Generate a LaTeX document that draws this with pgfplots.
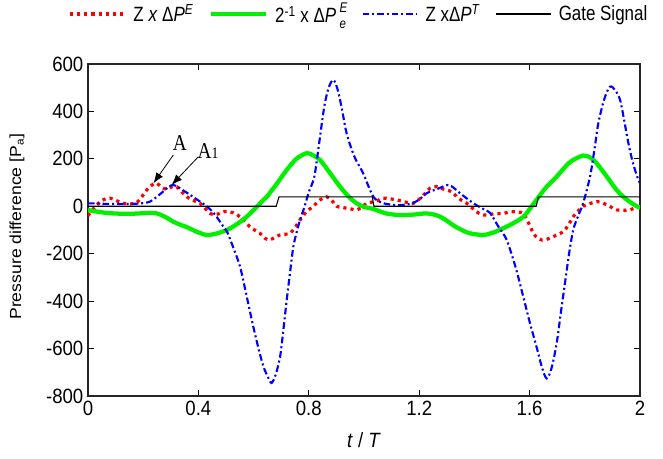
\documentclass[border=0pt]{standalone}
\usepackage{fontspec}
\setmainfont[FakeStretch=0.82]{Liberation Sans}
\newfontfamily\tickfont[FakeStretch=0.9]{Liberation Sans}
\newfontfamily\ylfont[FakeStretch=1.1]{Liberation Sans}
\newfontfamily\annfont[FakeStretch=0.85]{Liberation Serif}
\usepackage{pgfplots}
\pgfplotsset{compat=1.18}
\usetikzlibrary{arrows.meta}
\definecolor{cRed}{HTML}{FF0000}
\definecolor{cGreen}{HTML}{00F000}
\definecolor{cBlue}{HTML}{0000FF}
\newcommand{\lbl}{\fontsize{15.5}{18}\selectfont}
\newcommand{\tlbl}{\tickfont\fontsize{15.5}{18}\selectfont}
\newcommand{\sm}{\fontsize{10.5}{11}\selectfont}

\begin{document}
\begin{tikzpicture}
\begin{axis}[
  at={(0,0)}, anchor=south west,
  width=414pt, height=249pt, scale only axis,
  xmin=0, xmax=2, ymin=-800, ymax=600,
  xtick={0,0.4,0.8,1.2,1.6,2},
  xticklabels={0,0.4,0.8,1.2,1.6,2},
  ytick={-800,-600,-400,-200,0,200,400,600},
  tick align=inside, tick pos=both,
  major tick length=4.5pt,
  tick style={black, line width=0.6pt},
  axis line style={black!85, line width=0.9pt},
  /pgf/number format/assume math mode=true,
  ticklabel style={font=\tlbl},
  xlabel={\textit{t} / \textit{T}},
  xlabel style={font=\tlbl, at={(axis description cs:0.5,-0.1325)}, anchor=center},
  ylabel={Pressure difference [P\textsubscript{a}]},
  ylabel style={font=\ylfont\fontsize{12}{14}\selectfont, at={(axis description cs:-0.1286,0.51)}, anchor=center},
  legend columns=4,
  legend cell align=left,
  legend style={at={(-0.0362,1.1506)}, anchor=west, draw=none, fill=none,
    inner sep=0pt, font=\lbl,
    /tikz/every even column/.append style={column sep=9.5pt}},
  legend image code/.code={\draw[#1] (0pt,0pt) -- (41pt,0pt); \path (44.5pt,0pt);},
]
% Z x dP^E
\addplot[cRed, line width=2.4pt, dash pattern=on 2.4pt off 3pt, smooth] coordinates {
(0,-40) (0.02,-10) (0.05,25) (0.08,34) (0.1,25) (0.128,13) (0.155,10) (0.176,15)
(0.195,40) (0.213,69) (0.232,90) (0.249,97) (0.267,80) (0.285,72) (0.303,82) (0.321,83)
(0.34,60) (0.358,40) (0.38,25) (0.406,13) (0.425,-10) (0.442,-30) (0.46,-35) (0.478,-30)
(0.496,-22) (0.514,-23) (0.54,-35) (0.563,-58) (0.59,-90) (0.623,-114) (0.641,-135)
(0.659,-142) (0.678,-130) (0.696,-121) (0.714,-118) (0.732,-114) (0.75,-90) (0.768,-58)
(0.79,-25) (0.816,0) (0.841,27) (0.865,40) (0.883,25) (0.901,0) (0.92,-5) (0.937,-8)
(0.955,-12) (0.974,-15) (0.99,-5) (1.01,13) (1.04,20) (1.07,34) (1.09,32) (1.118,27)
(1.15,18) (1.179,13) (1.21,40) (1.239,76) (1.263,83) (1.28,75) (1.299,69) (1.32,60)
(1.336,40) (1.354,25) (1.372,13) (1.39,-5) (1.408,-23) (1.426,-35) (1.444,-37) (1.47,-32)
(1.505,-30) (1.523,-25) (1.541,-23) (1.56,-25) (1.578,-30) (1.596,-70) (1.614,-114)
(1.629,-135) (1.643,-142) (1.66,-140) (1.673,-135) (1.7,-120) (1.722,-107) (1.74,-80)
(1.758,-44) (1.776,-20) (1.794,0) (1.82,12) (1.843,20) (1.855,18) (1.867,13) (1.89,0)
(1.915,-15) (1.94,-17) (1.964,-15) (1.98,-8) (2,0)};
% 2^-1 x dP_e^E
\addplot[cGreen, line width=3.2pt, smooth] coordinates {
(0,-16) (0.03,-22) (0.06,-27) (0.091,-30) (0.14,-32) (0.188,-30) (0.22,-28) (0.249,-30)
(0.28,-45) (0.309,-65) (0.335,-78) (0.358,-88) (0.395,-108) (0.43,-121) (0.465,-115)
(0.503,-100) (0.54,-75) (0.575,-44) (0.605,-10) (0.636,27) (0.648,40) (0.684,95)
(0.72,153) (0.755,200) (0.792,224) (0.815,215) (0.841,195) (0.877,140) (0.913,83)
(0.945,40) (0.973,13) (1.0,-3) (1.03,-10) (1.08,-30) (1.13,-37) (1.18,-35) (1.227,-30)
(1.26,-37) (1.287,-51) (1.33,-85) (1.36,-103) (1.384,-114) (1.432,-121) (1.47,-110)
(1.504,-93) (1.54,-72) (1.578,-44) (1.6,-12) (1.625,27) (1.66,80) (1.698,125) (1.745,185)
(1.794,214) (1.82,205) (1.843,181) (1.88,125) (1.915,69) (1.95,30) (1.988,0) (2,-5)};
% Z x dP^T
\addplot[cBlue, line width=1.6pt, dash pattern=on 5pt off 2.2pt on 1.5pt off 2.2pt, smooth] coordinates {
(0,12) (0.03,12) (0.068,10) (0.11,10) (0.152,10) (0.19,12) (0.225,20) (0.26,50) (0.29,80)
(0.309,90) (0.333,76) (0.38,40) (0.43,0) (0.46,-35) (0.487,-80) (0.503,-105) (0.525,-170)
(0.551,-255) (0.575,-380) (0.599,-508) (0.62,-610) (0.636,-677) (0.652,-720) (0.665,-745)
(0.68,-710) (0.696,-634) (0.708,-520) (0.72,-395) (0.732,-280) (0.744,-170) (0.756,-110)
(0.768,-58) (0.785,0) (0.8,60) (0.82,125) (0.838,270) (0.856,420) (0.872,500) (0.889,533)
(0.905,490) (0.92,410) (0.937,308) (0.965,210) (0.997,139) (1.034,40) (1.07,13) (1.12,5)
(1.167,10) (1.2,28) (1.227,55) (1.27,75) (1.305,90) (1.328,75) (1.348,55) (1.396,13)
(1.43,-10) (1.457,-28) (1.487,-86) (1.517,-142) (1.55,-260) (1.58,-395) (1.603,-500)
(1.625,-592) (1.645,-680) (1.662,-726) (1.68,-680) (1.698,-578) (1.713,-450) (1.728,-325)
(1.743,-200) (1.758,-100) (1.776,-40) (1.794,13) (1.819,125) (1.835,240) (1.849,350)
(1.87,450) (1.891,504) (1.91,490) (1.928,448) (1.943,360) (1.958,266) (1.975,180)
(1.994,111) (2,100)};
% gate signal
\addplot[black, line width=0.8pt] coordinates {
(0,0) (0.682,0) (0.692,40) (1.03,40) (1.036,0) (1.624,0) (1.632,40) (2,40)};
\legend{Z \textit{x} Δ\textit{P}\textsuperscript{\textit{E}},
  2\textsuperscript{-1} x Δ\textit{P}\,\rlap{\raisebox{0.95ex}{\sm\textit{E}}}\raisebox{-0.55ex}{\sm\textit{e}}\hspace{0.25em},
  Z xΔ\textit{P}\textsuperscript{\textit{T}},
  Gate Signal}
% annotations
\draw[-{Latex[length=8pt,width=6pt]}, line width=0.6pt] (axis cs:0.309,216) -- (axis cs:0.237,97);
\draw[-{Latex[length=8pt,width=6pt]}, line width=0.6pt] (axis cs:0.40,209) -- (axis cs:0.303,90);
\node[font=\annfont\fontsize{17}{19}\selectfont] at (axis cs:0.333,267) {A};
\node[font=\annfont\fontsize{17}{19}\selectfont] at (axis cs:0.435,233) {A{\fontsize{12}{14}\selectfont 1}};
\end{axis}
\pgfresetboundingbox
\path[use as bounding box] (-66pt,-47.25pt) rectangle (431.25pt,297pt);
\end{tikzpicture}
\end{document}
